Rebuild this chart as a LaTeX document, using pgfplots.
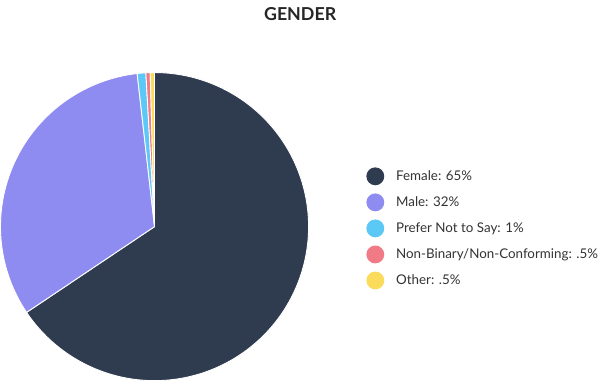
\documentclass[border=0pt]{standalone}
\usepackage{pgfplots}
\pgfplotsset{compat=1.18}
\usepackage{fontspec}
\setmainfont{Lato}
\definecolor{cFemale}{HTML}{2F3B4F}
\definecolor{cMale}{HTML}{8F8CF1}
\definecolor{cPrefer}{HTML}{5CC8F6}
\definecolor{cNB}{HTML}{F07B86}
\definecolor{cOther}{HTML}{FBDB5C}
\definecolor{txt}{HTML}{333333}
% shares (percent of the pie, as drawn)
\def\vFemale{65.6}
\def\vMale{32.6}
\def\vPrefer{0.9}
\def\vNB{0.45}
\def\vOther{0.45}
\def\cx{155.5}
\def\cy{155}
\def\rr{155}
\newcommand\slice[3]{% color, start share, end share (cumulative, clockwise from top)
  \pgfmathsetmacro\aS{90-3.6*#2}%
  \pgfmathsetmacro\aE{90-3.6*#3}%
  \addplot[fill=#1, draw=white, line width=0.9pt, line join=round, domain=\aS:\aE, samples=120]
    ({\cx+\rr*cos(x)},{\cy+\rr*sin(x)}) -- (\cx,\cy) -- cycle;
}
\begin{document}
\begin{tikzpicture}
\begin{axis}[width=600bp,height=383bp,scale only axis,
  xmin=0,xmax=600,ymin=0,ymax=383,hide axis,clip=false,
  legend image code/.code={\path (-9bp,0bp) (18.5bp,0bp); \fill[#1,draw=none] (0bp,0bp) circle (9bp);},
  legend style={draw=none,fill=none,at={(0.6133,0.400)},anchor=west,
    font=\fontsize{13.5}{16}\selectfont\color{txt},row sep=8.2bp,
    inner sep=0pt, nodes={inner sep=2pt}},
  legend cell align=left,
]
\addplot[draw=none,forget plot] coordinates {(0,0) (600,383)};
\pgfmathsetmacro\cA{\vFemale}
\pgfmathsetmacro\cB{\cA+\vMale}
\pgfmathsetmacro\cC{\cB+\vPrefer}
\pgfmathsetmacro\cD{\cC+\vNB}
\pgfmathsetmacro\cE{\cD+\vOther}
\slice{cFemale}{0}{\cA}
\addlegendentry{Female: 65\%}
\slice{cMale}{\cA}{\cB}
\addlegendentry{Male: 32\%}
\slice{cPrefer}{\cB}{\cC}
\addlegendentry{Prefer Not to Say: 1\%}
\slice{cNB}{\cC}{\cD}
\addlegendentry{Non-Binary/Non-Conforming: .5\%}
\slice{cOther}{\cD}{\cE}
\addlegendentry{Other: .5\%}
\node[text=black!85] at (axis cs:302,369.3) {\fontsize{18}{20}\selectfont\bfseries GENDER};
\end{axis}
\end{tikzpicture}
\end{document}
